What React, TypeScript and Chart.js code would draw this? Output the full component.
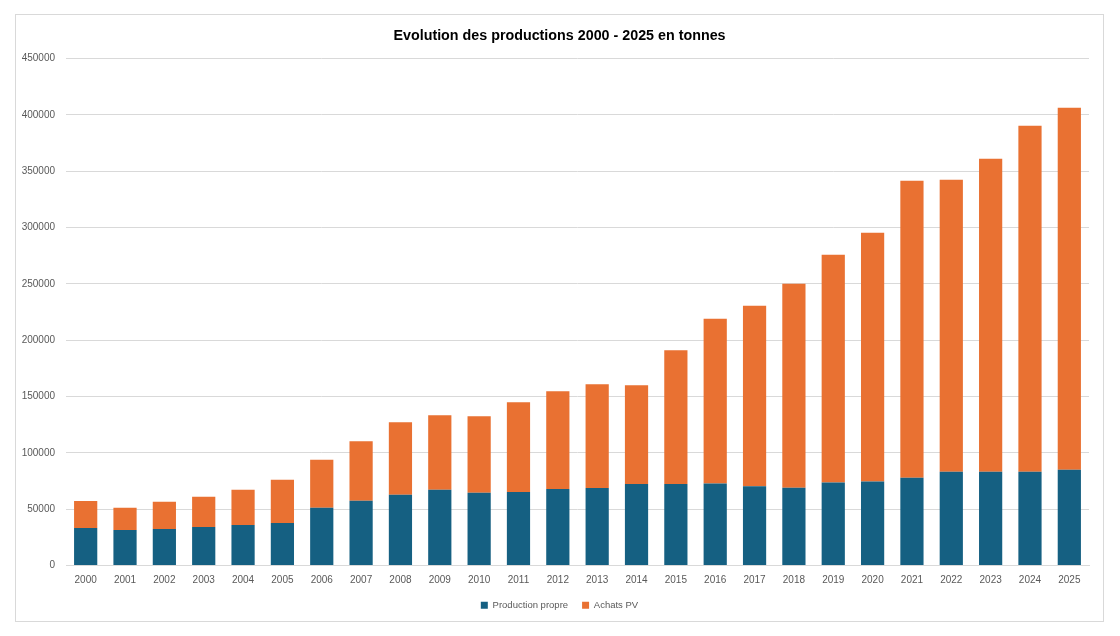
import React, { useEffect, useRef } from "react";
import { Chart, registerables } from "chart.js";

Chart.register(...registerables);

const years = [
  "2000", "2001", "2002", "2003", "2004", "2005", "2006", "2007", "2008", "2009",
  "2010", "2011", "2012", "2013", "2014", "2015", "2016", "2017", "2018", "2019",
  "2020", "2021", "2022", "2023", "2024", "2025",
];

const productionPropre = [
  33300, 31500, 32400, 34200, 36000, 37800, 51200, 57400, 62800, 67200,
  64600, 65200, 67900, 68800, 72300, 72300, 72700, 70300, 69100, 73600,
  74500, 78000, 83300, 83300, 83300, 85100,
];

const achatsPV = [
  23900, 19700, 24100, 26800, 31200, 38400, 42800, 52900, 64400, 66200,
  67900, 79700, 86800, 92100, 87700, 118800, 146400, 160400, 181100, 202300,
  221000, 263600, 259200, 277800, 307100, 321300,
];

const title = "Evolution des productions 2000 - 2025 en tonnes";
const seriesNames = ["Production propre", "Achats PV"];
const yMax = 450000;
const yStep = 50000;

const FONT = "'Liberation Sans', Arial, sans-serif";

export default function App() {
  const canvasRef = useRef<HTMLCanvasElement | null>(null);

  useEffect(() => {
    if (!canvasRef.current) return;
    const chart = new Chart(canvasRef.current, {
      type: "bar",
      data: {
        labels: years,
        datasets: [
          {
            label: seriesNames[0],
            data: productionPropre,
            backgroundColor: "#156082",
            barPercentage: 0.59,
            categoryPercentage: 1,
          },
          {
            label: seriesNames[1],
            data: achatsPV,
            backgroundColor: "#E97132",
            barPercentage: 0.59,
            categoryPercentage: 1,
          },
        ],
      },
      options: {
        animation: false,
        responsive: false,
        maintainAspectRatio: false,
        layout: { padding: { left: 0, right: 0, top: 0, bottom: 1 } },
        plugins: {
          title: {
            display: true,
            text: title,
            color: "#000000",
            font: { family: FONT, size: 14.3, weight: "bold" },
            padding: { top: 12, bottom: 14.5 },
          },
          legend: {
            position: "bottom",
            labels: {
              color: "#595959",
              font: { family: FONT, size: 9.5 },
              boxWidth: 7,
              boxHeight: 7,
              padding: 14,
            },
          },
          tooltip: { enabled: false },
        },
        scales: {
          x: {
            stacked: true,
            grid: { display: false, drawTicks: false },
            border: { display: true, color: "#d9d9d9" },
            ticks: {
              color: "#595959",
              font: { family: FONT, size: 10 },
              padding: 9,
              maxRotation: 0,
              autoSkip: false,
            },
            afterFit: (scale: any) => {
              scale.height = 21;
            },
          },
          y: {
            stacked: true,
            min: 0,
            max: yMax,
            grid: { color: "#d9d9d9", drawTicks: false },
            border: { display: false },
            ticks: {
              stepSize: yStep,
              color: "#595959",
              font: { family: FONT, size: 10 },
              padding: 11,
              callback: (v: any) => String(v),
            },
            afterFit: (scale: any) => {
              scale.width = 50;
            },
          },
          spacer: {
            type: "linear",
            position: "right",
            display: true,
            grid: { display: false, drawTicks: false },
            border: { display: false },
            ticks: { display: false },
            afterFit: (scale: any) => {
              scale.width = 14;
            },
          },
        },
      },
    });
    return () => chart.destroy();
  }, []);

  return (
    <div
      style={{
        position: "fixed",
        left: 0,
        top: 0,
        width: 1120,
        height: 636,
        background: "#ffffff",
      }}
    >
      <div
        style={{
          position: "absolute",
          left: 15,
          top: 14,
          width: 1089,
          height: 608,
          border: "1px solid #d9d9d9",
          boxSizing: "border-box",
        }}
      >
        <canvas ref={canvasRef} width={1087} height={606} style={{ display: "block", width: 1087, height: 606 }} />
      </div>
    </div>
  );
}
